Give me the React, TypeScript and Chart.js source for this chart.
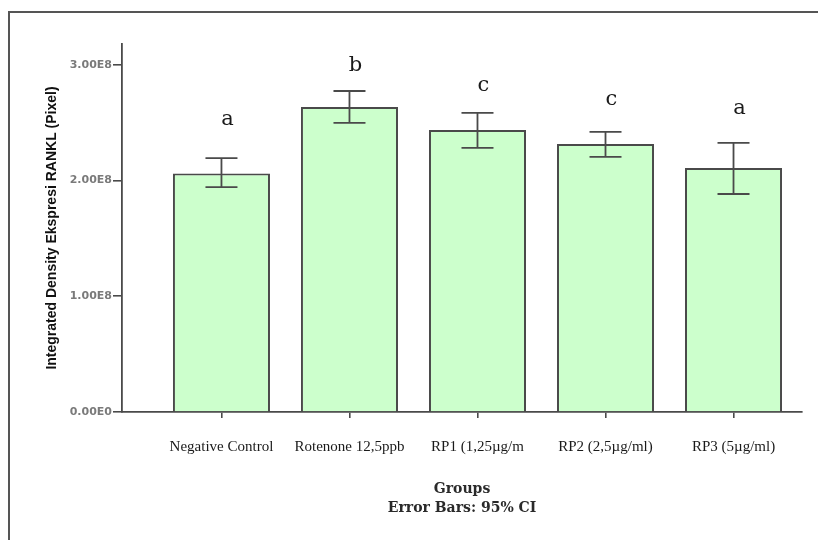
import React, { useEffect, useRef } from "react";
import { Chart, registerables } from "chart.js";

Chart.register(...registerables);

const categories = [
  "Negative Control",
  "Rotenone 12,5ppb",
  "RP1 (1,25µg/m",
  "RP2 (2,5µg/ml)",
  "RP3 (5µg/ml)",
];
const means = [2.06e8, 2.636e8, 2.437e8, 2.316e8, 2.109e8];
const ciLow = [1.944e8, 2.498e8, 2.282e8, 2.204e8, 1.884e8];
const ciHigh = [2.194e8, 2.774e8, 2.584e8, 2.42e8, 2.325e8];
const groupLetters = ["a", "b", "c", "c", "a"];
const letterLevels = [2.524e8, 2.99e8, 2.817e8, 2.696e8, 2.618e8];
const yTicks = [0, 1e8, 2e8, 3e8];

const fmtSci = (v: number) =>
  v === 0 ? "0.00E0" : v.toExponential(2).toUpperCase().replace("+", "");

const framePlugin = {
  id: "frame",
  beforeDraw(chart: any) {
    const { ctx, width, height } = chart;
    ctx.save();
    ctx.fillStyle = "#ffffff";
    ctx.fillRect(0, 0, width, height);
    ctx.strokeStyle = "#555555";
    ctx.lineWidth = 2;
    ctx.beginPath();
    ctx.moveTo(9, height);
    ctx.lineTo(9, 12);
    ctx.lineTo(width, 12);
    ctx.stroke();
    ctx.restore();
  },
};

const errorBarPlugin = {
  id: "errorBars",
  afterDatasetsDraw(chart: any) {
    const { ctx } = chart;
    const xs = chart.scales.x;
    const ys = chart.scales.y;
    ctx.save();
    ctx.strokeStyle = "#4a4a4a";
    ctx.lineWidth = 1.8;
    means.forEach((_, i) => {
      const x = xs.getPixelForValue(i);
      const yl = ys.getPixelForValue(ciLow[i]);
      const yh = ys.getPixelForValue(ciHigh[i]);
      ctx.beginPath();
      ctx.moveTo(x, yl);
      ctx.lineTo(x, yh);
      ctx.moveTo(x - 16, yh);
      ctx.lineTo(x + 16, yh);
      ctx.moveTo(x - 16, yl);
      ctx.lineTo(x + 16, yl);
      ctx.stroke();
    });
    ctx.fillStyle = "#1a1a1a";
    ctx.font = "21px 'DejaVu Serif', serif";
    ctx.textAlign = "center";
    ctx.textBaseline = "middle";
    groupLetters.forEach((t, i) => {
      const x = xs.getPixelForValue(i) + 6;
      const y = ys.getPixelForValue(letterLevels[i]);
      ctx.fillText(t, x, y);
    });
    ctx.restore();
  },
};

export default function App() {
  const ref = useRef<HTMLCanvasElement | null>(null);

  useEffect(() => {
    document.body.style.margin = "0";
    if (!ref.current) return;
    const chart = new Chart(ref.current, {
      type: "bar",
      data: {
        datasets: [
          {
            data: means.map((v, i) => ({ x: i, y: v })),
            backgroundColor: "#ccffcc",
            borderColor: "#4a4a4a",
            borderWidth: 2,
            barPercentage: 0.758,
            categoryPercentage: 1,
          },
        ],
      },
      options: {
        responsive: false,
        animation: false,
        devicePixelRatio: 1,
        layout: { padding: { left: 0, right: 16, top: 44, bottom: 0 } },
        plugins: {
          legend: { display: false },
          tooltip: { enabled: false },
        },
        scales: {
          x: {
            type: "linear",
            offset: false,
            min: -0.777,
            max: 4.535,
            afterBuildTicks: (scale: any) => {
              scale.ticks = categories.map((_, i) => ({ value: i }));
            },
            afterFit: (scale: any) => {
              scale.height = 128;
            },
            grid: {
              offset: false,
              drawOnChartArea: false,
              drawTicks: true,
              tickLength: 6,
              color: "#4a4a4a",
              lineWidth: 1.6,
            },
            border: { color: "#4a4a4a", width: 1.8 },
            ticks: {
              autoSkip: false,
              maxRotation: 0,
              padding: 20,
              color: "#1a1a1a",
              font: { family: "'Liberation Serif', 'Times New Roman', serif", size: 15 },
              callback: (v: any) => categories[Number(v)] ?? "",
            },
            title: {
              display: true,
              text: ["Groups", "Error Bars: 95% CI"],
              color: "#2a2a2a",
              font: { family: "'DejaVu Serif', serif", size: 14, weight: "bold", lineHeight: 1.35 },
              padding: { top: 0, bottom: 22 },
            },
          },
          y: {
            min: 0,
            max: 3.18e8,
            afterBuildTicks: (scale: any) => {
              scale.ticks = yTicks.map((v) => ({ value: v }));
            },
            afterFit: (scale: any) => {
              scale.width = 122;
            },
            grid: {
              drawOnChartArea: false,
              drawTicks: true,
              tickLength: 9,
              color: "#4a4a4a",
              lineWidth: 1.6,
            },
            border: { color: "#4a4a4a", width: 1.8 },
            ticks: {
              padding: 1,
              color: "#7a7a7a",
              font: { family: "'DejaVu Sans', sans-serif", size: 11, weight: "bold" },
              callback: (v: any) => fmtSci(Number(v)),
            },
            title: {
              display: true,
              text: "Integrated Density Ekspresi RANKL (Pixel)",
              color: "#111111",
              font: { family: "'Liberation Sans', Arial, sans-serif", size: 14, weight: "bold" },
              padding: { top: 44, bottom: 0 },
            },
          },
        },
      } as any,
      plugins: [framePlugin, errorBarPlugin],
    });
    return () => chart.destroy();
  }, []);

  return (
    <div style={{ position: "absolute", left: 0, top: 0, width: 818, height: 540 }}>
      <canvas ref={ref} width={818} height={540} style={{ display: "block" }} />
    </div>
  );
}
